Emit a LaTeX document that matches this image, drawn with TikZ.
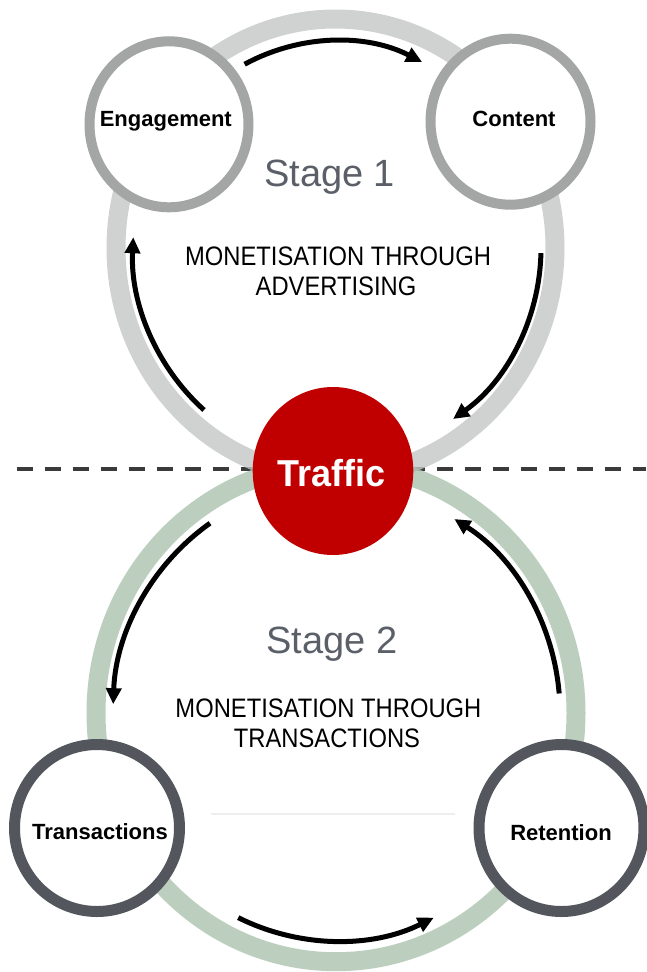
\documentclass[tikz,border=0pt]{standalone}
\usepackage{fontspec}
\setmainfont{Liberation Sans}
\newfontfamily\narrowfont{Liberation Sans}[FakeStretch=0.89]
\newfontfamily\trafficfont{Liberation Sans}[FakeStretch=0.96]
\usetikzlibrary{arrows.meta,shapes.geometric,calc}
\definecolor{ringup}{HTML}{C4C7C5}
\definecolor{ringlow}{HTML}{ACC4AF}
\definecolor{topcirc}{HTML}{A3A6A5}
\definecolor{botcirc}{HTML}{53575D}
\definecolor{trafficred}{HTML}{C00000}
\definecolor{stagegray}{HTML}{5B6068}
\definecolor{dashgray}{HTML}{3A3A3A}
\definecolor{faintline}{HTML}{EEEEEE}
\begin{document}
\begin{tikzpicture}[x=1pt,y=-1pt,
  bigring/.style={line width=19pt, opacity=0.8},
  arr/.style={line width=5pt, -{Triangle[length=16pt,width=15pt]}},
  topnode/.style={ellipse, draw=topcirc, line width=10pt, fill=white, inner sep=0pt},
  botnode/.style={ellipse, draw=botcirc, line width=11pt, fill=white, inner sep=0pt},
  lbl/.style={anchor=base, inner sep=0pt, font=\bfseries\fontsize{22}{26}\selectfont},
  stagelbl/.style={anchor=base, inner sep=0pt, text=stagegray, font=\fontsize{38}{44}\selectfont},
  monolbl/.style={anchor=base, inner sep=0pt, font=\narrowfont\fontsize{26.7}{30}\selectfont}
]
\useasboundingbox (0,0) rectangle (646,972);
\fill[white] (0,0) rectangle (646,972);

% centres
\coordinate (uc) at (335.5,248);
\coordinate (lc) at (336,713);
\coordinate (dl) at (16.7,469);
\coordinate (dr) at (646,469);

% dashed divider
\draw[dashgray, line width=4.5pt, dash pattern=on 16pt off 12pt] (dl) -- (dr);

% big rings
\draw[bigring, draw=ringup] (uc) ellipse [x radius=219.5, y radius=229];
\draw[bigring, draw=ringlow] (lc) ellipse [x radius=240, y radius=248.7];

% faint line
\coordinate (fl) at (211,814);
\coordinate (fr) at (455,814);
\draw[faintline, line width=2pt] (fl) -- (fr);

% arrows
\coordinate (a1) at ($(uc)+(-117.4:197.5 and 207)$);
\draw[arr] (a1) arc[start angle=-117.4, end angle=-64, x radius=197.5, y radius=207];
\coordinate (a2) at ($(uc)+(1.4:205.5 and 208.5)$);
\draw[arr] (a2) arc[start angle=1.4, end angle=55.1, x radius=205.5, y radius=208.5];
\coordinate (a3) at ($(uc)+(130.5:202.5 and 213)$);
\draw[arr] (a3) arc[start angle=130.5, end angle=182.9, x radius=202.5, y radius=213];
\coordinate (a4) at ($(lc)+(235.6:223 and 230)$);
\draw[arr] (a4) arc[start angle=235.6, end angle=182.2, x radius=223, y radius=230];
\coordinate (a5) at ($(lc)+(116:223 and 227.7)$);
\draw[arr] (a5) arc[start angle=116, end angle=64, x radius=223, y radius=227.7];
\coordinate (a6) at ($(lc)+(-4.9:224 and 228.5)$);
\draw[arr] (a6) arc[start angle=-4.9, end angle=-58.1, x radius=224, y radius=228.5];

% stage circles
\node[topnode, minimum width=159pt, minimum height=166pt] (eng) at (169,124.3) {};
\node[topnode, minimum width=160pt, minimum height=166pt] (con) at (510.5,121.7) {};
\node[botnode, minimum width=165pt, minimum height=167pt] (tra) at (97,828) {};
\node[botnode, minimum width=165pt, minimum height=167pt] (ret) at (561.5,828) {};

\node[lbl] (englbl) at (165.8,126.7) {Engagement};
\node[lbl] (conlbl) at (514,126) {Content};
\node[lbl] (tralbl) at (100,839.3) {Transactions};
\node[lbl] (retlbl) at (561,840) {Retention};

% traffic
\node[ellipse, fill=trafficred, minimum width=160.6pt, minimum height=168pt, inner sep=0pt] (traffic) at (333,471) {};
\node[anchor=base, inner sep=0pt, text=white, font=\trafficfont\bfseries\fontsize{37.5}{42}\selectfont] (traflbl) at (331.7,486) {Traffic};

% texts
\node[stagelbl] (st1) at (329.6,186.7) {Stage 1};
\node[stagelbl] (st2) at (331.7,653.5) {Stage 2};
\node[monolbl] (m1a) at (338,265.5) {MONETISATION THROUGH};
\node[monolbl] (m1b) at (336,295) {ADVERTISING};
\node[monolbl] (m2a) at (328.4,717) {MONETISATION THROUGH};
\node[monolbl] (m2b) at (327,747.3) {TRANSACTIONS};
\end{tikzpicture}
\end{document}
